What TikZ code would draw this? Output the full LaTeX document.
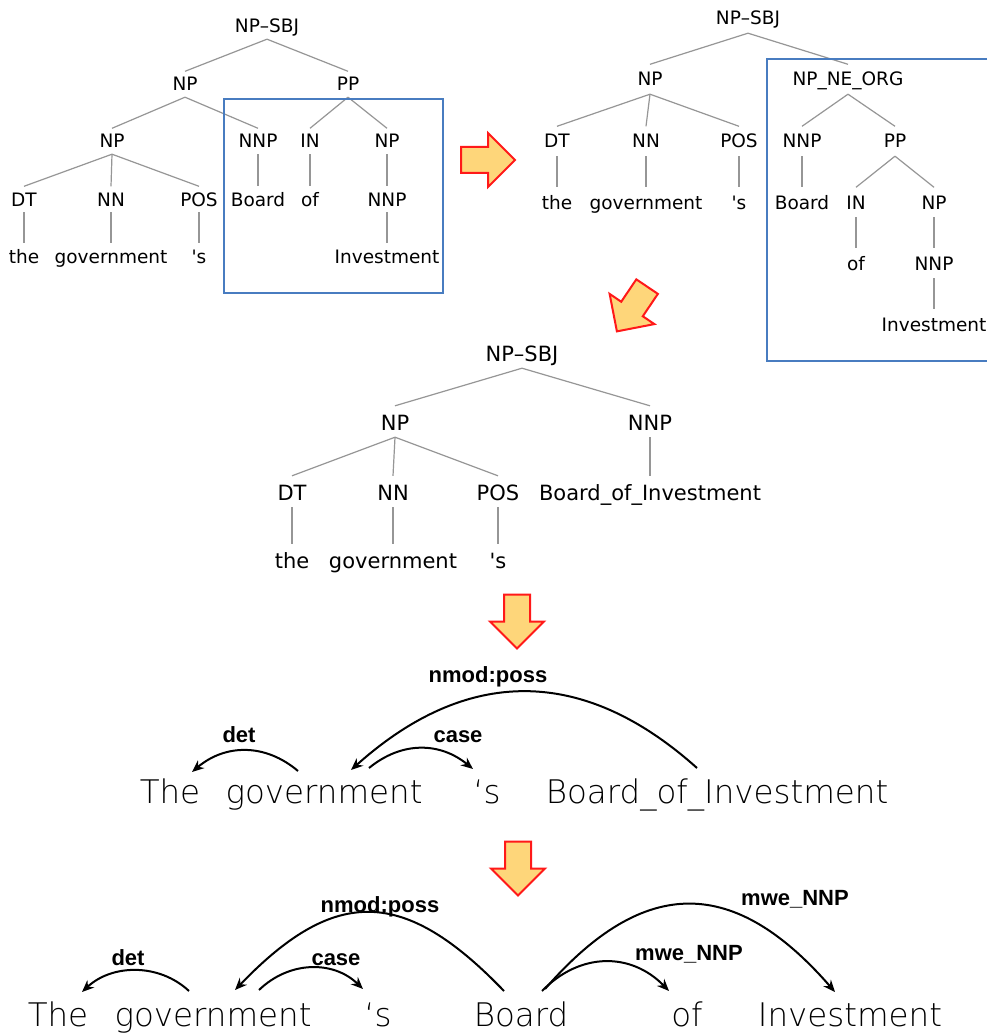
\documentclass[tikz,border=0pt]{standalone}
\usepackage{fontspec}
\usetikzlibrary{calc,arrows.meta}
\newfontfamily\treefont{DejaVu Sans}
\newfontfamily\wordfont{DejaVu Sans ExtraLight}
\newfontfamily\labfont{Liberation Sans Bold}
\definecolor{arrfill}{RGB}{254,214,122}
\definecolor{arrline}{RGB}{255,25,25}
\definecolor{boxblue}{RGB}{72,124,192}
\definecolor{treeline}{RGB}{150,150,150}
\newcommand{\fatarrow}[3]{\draw[fatarr,shift={(#1,#2)},rotate=#3] (-27,-13) -- (0,-13) -- (0,-27) -- (27,0) -- (0,27) -- (0,13) -- (-27,13) -- cycle;}
\tikzset{
  tA/.style={anchor=base, inner sep=0pt, font=\treefont\fontsize{18.5}{20}\selectfont, text height=19.5pt, text depth=6pt},
  tB/.style={anchor=base, inner sep=0pt, font=\treefont\fontsize{18.5}{20}\selectfont, text height=21.5pt, text depth=8pt},
  tC/.style={anchor=base, inner sep=0pt, font=\treefont\fontsize{21}{23}\selectfont, text height=24pt, text depth=7pt},
  br/.style={draw=treeline, line width=1.2pt},
  word/.style={anchor=base, inner sep=0pt, font=\wordfont\fontsize{32.5}{34}\selectfont},
  lab/.style={anchor=base, inner sep=0pt, font=\labfont\fontsize{22}{24}\selectfont},
  dep/.style={draw=black, line width=2pt, -{Stealth[length=12pt,width=10pt]}},
  fatarr/.style={fill=arrfill, draw=arrline, line width=2pt, line join=miter},
  hl/.style={draw=boxblue, line width=2pt}
}
\begin{document}
\begin{tikzpicture}[x=1pt,y=-1pt]
\fill[white] (0,0) rectangle (987,1035);
\useasboundingbox (0,0) rectangle (987,1035);

% ---------- tree 1 ----------
\node[tA] (a0) at (267,33) {NP–SBJ};
\node[tA] (a1) at (185,91) {NP};
\node[tA] (a2) at (348,91) {PP};
\node[tA] (a3) at (112,148) {NP};
\node[tA] (a4) at (258,148) {NNP};
\node[tA] (a5) at (310,148) {IN};
\node[tA] (a6) at (387,148) {NP};
\node[tA] (a7) at (24,206) {DT};
\node[tA] (a8) at (111,206) {NN};
\node[tA] (a9) at (199,206) {POS};
\node[tA] (a10) at (258,206) {Board};
\node[tA] (a11) at (310,206) {of};
\node[tA] (a12) at (387,206) {NNP};
\node[tA] (a13) at (24,263) {the};
\node[tA] (a14) at (111,263) {government};
\node[tA] (a15) at (199,263) {'s};
\node[tA] (a16) at (387,263) {Investment};
\foreach \p/\c in {a0/a1,a0/a2,a1/a3,a1/a4,a2/a5,a2/a6,a3/a7,a3/a8,a3/a9,a4/a10,a5/a11,a6/a12,a7/a13,a8/a14,a9/a15,a12/a16}
  \draw[br] (\p.south) -- (\c.north);
\draw[hl] (224,99) rectangle (443,293);

% ---------- tree 2 ----------
\node[tB] (b0) at (748,25) {NP–SBJ};
\node[tB] (b1) at (650,86) {NP};
\node[tB] (b2) at (848,86) {NP\_NE\_ORG};
\node[tB] (b3) at (557,148) {DT};
\node[tB] (b4) at (646,148) {NN};
\node[tB] (b5) at (739,148) {POS};
\node[tB] (b6) at (802,148) {NNP};
\node[tB] (b7) at (895,148) {PP};
\node[tB] (b8) at (557,209) {the};
\node[tB] (b9) at (646,209) {government};
\node[tB] (b10) at (739,209) {'s};
\node[tB] (b11) at (802,209) {Board};
\node[tB] (b12) at (856,209) {IN};
\node[tB] (b13) at (934,209) {NP};
\node[tB] (b14) at (856,270) {of};
\node[tB] (b15) at (934,270) {NNP};
\node[tB] (b16) at (934,331) {Investment};
\foreach \p/\c in {b0/b1,b0/b2,b1/b3,b1/b4,b1/b5,b2/b6,b2/b7,b3/b8,b4/b9,b5/b10,b6/b11,b7/b12,b7/b13,b12/b14,b13/b15,b15/b16}
  \draw[br] (\p.south) -- (\c.north);
\draw[hl] (987,59) -- (767,59) -- (767,361) -- (987,361);

% ---------- tree 3 ----------
\node[tC] (c0) at (522,361) {NP–SBJ};
\node[tC] (c1) at (395,430) {NP};
\node[tC] (c2) at (650,430) {NNP};
\node[tC] (c3) at (292,500) {DT};
\node[tC] (c4) at (393,500) {NN};
\node[tC] (c5) at (498,500) {POS};
\node[tC] (c6) at (650,500) {Board\_of\_Investment};
\node[tC] (c7) at (292,568) {the};
\node[tC] (c8) at (393,568) {government};
\node[tC] (c9) at (498,568) {'s};
\foreach \p/\c in {c0/c1,c0/c2,c1/c3,c1/c4,c1/c5,c2/c6,c3/c7,c4/c8,c5/c9}
  \draw[br] (\p.south) -- (\c.north);

% ---------- fat arrows ----------
\fatarrow{488}{160}{0}
\fatarrow{632}{309}{236}
\fatarrow{517}{621.5}{270}
\fatarrow{518}{868.5}{270}

% ---------- dependency row 1 ----------
\node[word] (w1) at (170,803) {The};
\node[word] (w2) at (324,803) {government};
\node[word] (w3) at (487,803) {‘s};
\node[word] (w4) at (717,803) {Board\_of\_Investment};
\node[lab] (l1) at (488,682) {nmod:poss};
\node[lab] (l2) at (239,742) {det};
\node[lab] (l3) at (458,742) {case};
\draw[dep] ($(w2.base)+(-26,-32)$) .. controls +(-33,-28) and +(33,-28) .. ($(w1.base)+(22,-31)$);
\draw[dep] ($(w2.base)+(45,-35)$) .. controls +(33,-27) and +(-33,-27) .. ($(w3.base)+(-14,-34)$);
\draw[dep] ($(w4.base)+(-20,-35)$) .. controls +(-115,-103) and +(115,-103) .. ($(w2.base)+(27,-33)$);

% ---------- dependency row 2 ----------
\node[word] (v1) at (58,1026) {The};
\node[word] (v2) at (213,1026) {government};
\node[word] (v3) at (378,1026) {‘s};
\node[word] (v4) at (521,1026) {Board};
\node[word] (v5) at (687,1026) {of};
\node[word] (v6) at (850,1026) {Investment};
\node[lab] (k1) at (380,912) {nmod:poss};
\node[lab] (k2) at (128,965) {det};
\node[lab] (k3) at (336,965) {case};
\node[lab] (k4) at (795,905) {mwe\_NNP};
\node[lab] (k5) at (689,960) {mwe\_NNP};
\draw[dep] ($(v2.base)+(-24,-35)$) .. controls +(-30,-28) and +(30,-28) .. ($(v1.base)+(24,-34)$);
\draw[dep] ($(v2.base)+(46,-36)$) .. controls +(30,-29) and +(-30,-29) .. ($(v3.base)+(-15,-37)$);
\draw[dep] ($(v4.base)+(-17,-35)$) .. controls +(-100,-104) and +(100,-104) .. ($(v2.base)+(22,-36)$);
\draw[dep] ($(v4.base)+(21,-35)$) .. controls +(38,-39) and +(-38,-39) .. ($(v5.base)+(-18,-35)$);
\draw[dep] ($(v4.base)+(24,-37)$) .. controls +(100,-115) and +(-100,-115) .. ($(v6.base)+(-15,-34)$);
\end{tikzpicture}
\end{document}
